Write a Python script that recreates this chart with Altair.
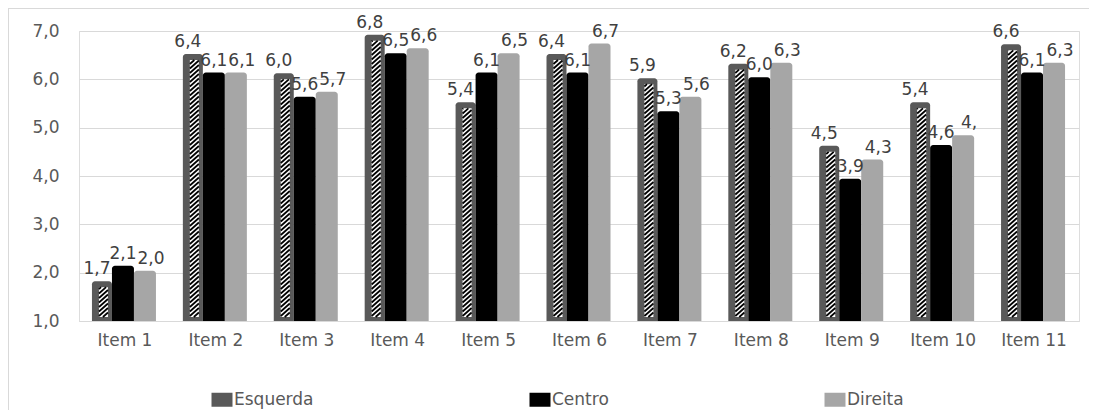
import altair as alt
import pandas as pd

# ---- data ----
item_idx = list(range(1, 12))
item_names = [f"Item {i}" for i in item_idx]
series_names = ["Esquerda", "Centro", "Direita"]
esquerda = [1.7, 6.4, 6.0, 6.8, 5.4, 6.4, 5.9, 6.2, 4.5, 5.4, 6.6]
centro = [2.1, 6.1, 5.6, 6.5, 6.1, 6.1, 5.3, 6.0, 3.9, 4.6, 6.1]
direita = [2.0, 6.1, 5.7, 6.6, 6.5, 6.7, 5.6, 6.3, 4.3, 4.8, 6.3]
label_override = {("Direita", 10): "4,"}
y_ticks = [1, 2, 3, 4, 5, 6, 7]

colors = ["#595959", "#000000", "#a6a6a6"]
FONT = "DejaVu Sans"
TXT = "#595959"
GRID = "#d9d9d9"

W, H = 1000, 290
PX_X = W / 11.0
PX_Y = H / 6.0


def frame(name, vals):
    rows = []
    for i, v in zip(item_idx, vals):
        lab = label_override.get((name, i), f"{v:.1f}".replace(".", ","))
        rows.append({"i": i, "item": item_names[i - 1], "series": name,
                     "value": v, "base": 1.0, "label": lab})
    return pd.DataFrame(rows)


dfE = frame("Esquerda", esquerda)
dfC = frame("Centro", centro)
dfD = frame("Direita", direita)

# hatch stripes for the Esquerda bars (derived from the values)
hx0, hx1 = -25.5, -16.5
rise, period, bottom_gap = 8.0, 4.5, 4.0
hrows = []
for i, v in zip(item_idx, esquerda):
    yt = (v - 1.0) * PX_Y
    yl = bottom_gap - rise
    while yl < yt:
        t0 = max(0.0, (bottom_gap - yl) / rise)
        t1 = min(1.0, (yt - yl) / rise)
        if t1 > t0:
            xa = hx0 + t0 * (hx1 - hx0)
            xb = hx0 + t1 * (hx1 - hx0)
            ya = yl + t0 * rise
            yb = yl + t1 * rise
            hrows.append({"hx": i + xa / PX_X, "hx2": i + xb / PX_X,
                          "hy": 1 + ya / PX_Y, "hy2": 1 + yb / PX_Y})
        yl += period
dfH = pd.DataFrame(hrows)

xscale = alt.Scale(domain=[0.5, 11.5], nice=False, zero=False)
yscale = alt.Scale(domain=[1, 7], nice=False, zero=False)
cscale = alt.Scale(domain=series_names, range=colors)

xaxis = alt.Axis(values=item_idx, labelExpr="'Item ' + datum.value", grid=False,
                 ticks=False, domain=True, domainColor=GRID, domainWidth=1,
                 labelFont=FONT, labelFontSize=17, labelColor=TXT,
                 labelPadding=11, title=None)
yaxis = alt.Axis(values=y_ticks, labelExpr="replace(format(datum.value, '.1f'), '.', ',')",
                 grid=True, gridColor=GRID, gridWidth=1, ticks=False, domain=False,
                 labelFont=FONT, labelFontSize=17, labelColor=TXT, labelPadding=20,
                 title=None)

legend = alt.Legend(orient="none", legendX=131, legendY=360, direction="horizontal",
                    title=None, symbolType="M-1,-1H2V1H-1Z", symbolSize=196,
                    symbolStrokeWidth=0, symbolOpacity=1, labelFont=FONT,
                    labelFontSize=17, labelColor=TXT, labelOffset=7,
                    columnPadding=214, padding=0)

enc_x = alt.X("i:Q", scale=xscale, axis=xaxis)
enc_y = alt.Y("value:Q", scale=yscale, axis=yaxis)

barE = alt.Chart(dfE).mark_rect(
    xOffset=-32.5, x2Offset=-12.5, yOffset=-6,
    cornerRadiusTopLeft=3, cornerRadiusTopRight=3
).encode(x=enc_x, x2="i:Q", y=enc_y, y2="base:Q",
         color=alt.Color("series:N", scale=cscale, legend=legend))

hatchBg = alt.Chart(dfE).mark_rect(
    xOffset=hx0, x2Offset=hx1, y2Offset=-bottom_gap, color="white"
).encode(x="i:Q", x2="i:Q", y="value:Q", y2="base:Q")

hatch = alt.Chart(dfH).mark_rule(color="black", strokeWidth=1.7, strokeCap="butt").encode(
    x="hx:Q", x2="hx2:Q", y="hy:Q", y2="hy2:Q")

barC = alt.Chart(dfC).mark_rect(
    xOffset=-12.5, x2Offset=9.5, yOffset=-2,
    cornerRadiusTopLeft=3, cornerRadiusTopRight=3
).encode(x="i:Q", x2="i:Q", y="value:Q", y2="base:Q",
         color=alt.Color("series:N", scale=cscale, legend=legend))

barD = alt.Chart(dfD).mark_rect(
    xOffset=9.5, x2Offset=31.5, yOffset=-2,
    cornerRadiusTopLeft=3, cornerRadiusTopRight=3
).encode(x="i:Q", x2="i:Q", y="value:Q", y2="base:Q",
         color=alt.Color("series:N", scale=cscale, legend=legend))


def labels(df, xoff, dy):
    return alt.Chart(df).mark_text(
        xOffset=xoff, dy=dy, align="center", baseline="alphabetic",
        font=FONT, fontSize=17, color="#404040"
    ).encode(x="i:Q", y="value:Q", text="label:N")


labE = labels(dfE, -27.5, -13)
labC = labels(dfC, -1.5, -9)
labD = labels(dfD, 26.5, -9)

border = alt.Chart(dfE).mark_rect(filled=False, stroke=GRID, strokeWidth=1).encode(
    x=alt.value(-70.5), x2=alt.value(W + 40), y=alt.value(-22.5), y2=alt.value(H + 200))

chart = alt.layer(
    border, barE, hatchBg, hatch, barC, barD, labE, labC, labD
).properties(
    width=W, height=H,
    autosize=alt.AutoSizeParams(type="none"),
    padding={"left": 71, "top": 23, "right": 10, "bottom": 92},
).configure_view(stroke=None).configure(background="white")

chart.save("out.html", embed_options={"renderer": "svg", "actions": False})
